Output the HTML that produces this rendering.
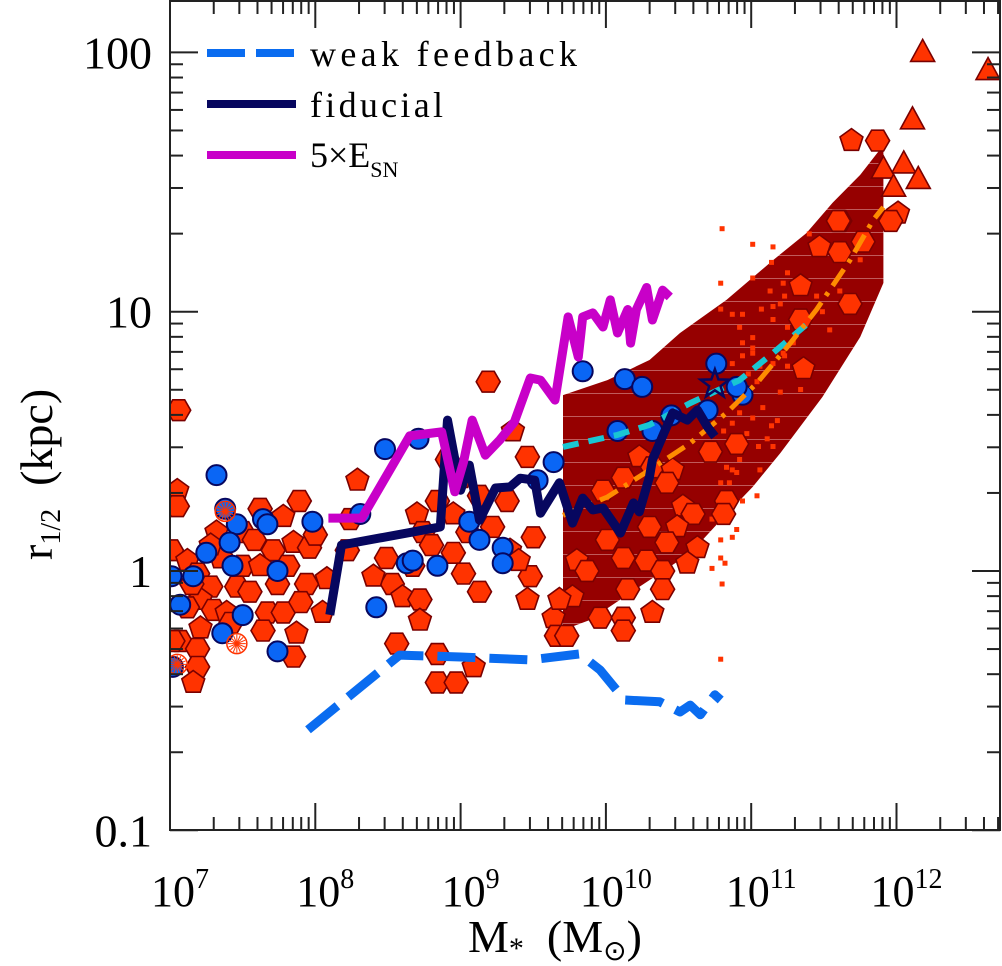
<!DOCTYPE html>
<html><head><meta charset="utf-8">
<style>
html,body{margin:0;padding:0;background:#fff;}
svg{display:block;font-family:"Liberation Serif",serif;}
</style></head>
<body>
<svg id="chart" width="1002" height="966" viewBox="0 0 1002 966" xmlns="http://www.w3.org/2000/svg">
<defs>
<pattern id="hatch" width="10" height="23" patternUnits="userSpaceOnUse" y="2">
<rect width="10" height="23" fill="#960000"/>
<line x1="0" y1="0.5" x2="10" y2="0.5" stroke="#c05a5a" stroke-width="1"/>
</pattern>
<clipPath id="plotclip"><rect x="170" y="1" width="830" height="829"/></clipPath>
</defs>
<g id="band" clip-path="url(#plotclip)"></g>
<g id="squares" clip-path="url(#plotclip)"></g>
<g id="polys" clip-path="url(#plotclip)"></g>
<g id="circles" clip-path="url(#plotclip)"></g>
<g id="lines" clip-path="url(#plotclip)"></g>
<g id="axes"></g>
<g id="legend">
<line x1="207" y1="53" x2="296" y2="53" stroke="#0a6cf0" stroke-width="8" stroke-dasharray="38 11"/>
<text x="310" y="66" font-size="36" textLength="267">weak feedback</text>
<line x1="207" y1="104" x2="296" y2="104" stroke="#07075f" stroke-width="8"/>
<text x="310" y="117" font-size="36" textLength="133">fiducial</text>
<line x1="207" y1="155" x2="296" y2="155" stroke="#c800c8" stroke-width="8"/>
<text x="310" y="167" font-size="36">5×E<tspan font-size="22" dy="10">SN</tspan></text>
</g>
<text x="468" y="952" font-size="46">M<tspan font-size="30" dy="6">*</tspan><tspan dy="-6" xml:space="preserve">  (M</tspan><tspan font-size="28" dy="8">⊙</tspan><tspan dy="-8">)</tspan></text>
<text transform="translate(52,560) rotate(-90)" font-size="46">r<tspan font-size="28" dy="8">1/2</tspan><tspan dy="-8" xml:space="preserve">  (kpc)</tspan></text>
</svg>
<script>
// ---- data (log10 stellar mass, radii) ----
const weakLogM = [7.95,8.58,9.0,9.48,9.82,9.96,10.13,10.37,10.51,10.58,10.65,10.75,10.79];
const weakR = [0.244,0.474,0.466,0.454,0.479,0.415,0.318,0.313,0.286,0.304,0.279,0.333,0.318];
const fidLogM = [8.10,8.18,8.86,8.91,9.0,9.06,9.13,9.24,9.34,9.41,9.51,9.55,9.68,9.77,9.84,9.91,9.98,10.10,10.19,10.23,10.30,10.32,10.40,10.46,10.56,10.63,10.70,10.75];
const fidR = [0.677,1.26,1.48,3.82,2.05,2.56,1.57,2.09,2.11,2.28,2.24,1.67,2.19,1.53,1.91,1.72,1.75,1.40,1.83,1.69,2.31,2.68,3.41,4.07,3.82,4.18,3.59,3.3];
const esnLogM = [8.09,8.32,8.65,8.87,8.96,9.02,9.08,9.17,9.27,9.37,9.48,9.55,9.65,9.74,9.81,9.84,9.91,9.98,10.03,10.08,10.15,10.17,10.21,10.28,10.32,10.39,10.44];
const esnR = [1.60,1.60,3.32,3.44,2.02,2.63,3.82,2.80,3.20,3.76,5.55,5.45,4.56,9.55,6.69,9.55,9.89,8.73,11.1,8.28,10.2,7.57,10.2,12.4,9.29,12.1,11.4];
const cyanLogM = [9.705,10.08,10.30,10.58,10.92,11.15,11.40];
const cyanR = [3.01,3.35,3.66,4.44,5.45,6.93,9.12];
const orangeLogM = [9.705,10.01,10.30,10.58,10.83,11.04,11.27,11.45,11.68,11.84,11.91];
const orangeR = [1.64,1.93,2.45,3.11,4.07,5.31,7.57,10.2,15.8,22.6,25.3];
const bandUpLogM = [9.705,10.01,10.30,10.51,10.83,11.15,11.38,11.56,11.75,11.91];
const bandUpR = [4.77,5.45,6.51,8.28,11.1,15.8,20.1,26.3,33.7,43.9];
const bandLoLogM = [9.705,9.89,10.23,10.58,10.79,11.01,11.20,11.49,11.75,11.91];
const bandLoR = [0.592,0.647,0.868,1.17,1.57,2.11,2.85,4.69,7.99,12.9];
const polyLogM = [7.06,7.05,7.05,7.01,7.12,7.19,7.28,7.32,7.50,7.62,7.78,7.89,7.71,7.85,7.96,7.50,7.62,7.81,7.94,8.08,7.74,7.46,7.21,7.12,7.30,7.39,7.67,7.78,7.21,7.07,7.64,7.87,7.19,7.19,7.16,7.85,7.02,8.29,8.24,8.22,8.05,8.49,8.53,8.60,8.72,8.67,8.70,8.74,8.84,8.95,8.95,8.91,9.00,9.13,9.22,9.36,9.46,9.32,9.34,9.50,9.48,9.46,9.13,9.02,8.72,8.56,8.84,9.09,8.84,8.97,9.64,9.66,11.61,11.47,11.61,11.77,11.34,11.68,11.34,11.36,10.90,10.72,10.23,10.12,10.32,10.46,9.98,10.42,10.53,10.60,10.30,10.49,10.01,10.42,10.63,10.28,10.12,9.80,9.87,10.39,10.56,10.83,10.81,9.77,10.15,10.39,9.68,9.96,10.12,10.32,9.73,10.12,11.69,11.87,11.60,12.01,11.96,9.19,7.35,7.55,7.90,7.28,7.58,8.00,8.40,8.80,9.05,9.40,7.15,7.42];
const polyLogR = [0.62,0.31,0.25,0.08,0.04,-0.01,-0.06,0.15,0.15,0.24,0.21,0.27,0.08,0.11,0.09,0.02,0.02,0.02,-0.05,-0.03,-0.05,-0.06,-0.11,-0.14,-0.15,-0.16,-0.16,-0.16,-0.22,-0.27,-0.23,-0.24,-0.30,-0.37,-0.43,-0.33,-0.27,0.35,0.20,0.08,-0.16,0.05,-0.05,-0.10,-0.11,0.02,0.22,0.15,0.27,0.22,0.07,0.43,0.36,0.29,0.17,0.54,0.44,0.27,0.08,0.13,-0.02,-0.11,-0.08,-0.01,-0.19,-0.28,-0.32,-0.37,-0.43,-0.43,-0.18,-0.25,1.35,1.25,1.23,1.27,1.10,1.03,0.97,0.78,0.49,0.46,0.44,0.36,0.40,0.39,0.31,0.34,0.25,0.22,0.17,0.17,0.12,0.11,0.09,0.04,0.05,0.04,0.00,0.00,0.03,0.27,0.22,-0.10,-0.07,-0.07,-0.11,-0.18,-0.18,-0.16,-0.25,-0.23,1.66,1.66,1.35,1.38,1.35,0.73,0.05,-0.08,-0.12,0.10,0.12,0.14,-0.02,0.10,0.15,0.04,-0.05,-0.20];
const circLogM = [7.32,7.38,7.46,7.41,7.25,7.43,7.01,7.16,7.07,7.50,7.36,7.74,7.02,7.64,7.67,7.74,7.98,8.31,8.48,8.71,8.42,8.63,8.67,8.84,9.06,9.13,9.29,9.29,9.53,9.64,9.84,10.13,10.25,10.76,10.08,10.32,10.45,10.94,10.90,10.70];
const circLogR = [0.37,0.24,0.18,0.11,0.07,0.02,-0.02,-0.02,-0.13,-0.17,-0.24,-0.31,-0.37,0.20,0.18,0.00,0.19,0.22,0.47,0.51,-0.14,0.03,0.04,0.02,0.19,0.12,0.09,0.03,0.35,0.42,0.77,0.74,0.71,0.80,0.54,0.54,0.60,0.68,0.71,0.62];
const triLogM = [12.18,12.63,12.11,12.05,11.91,12.15,11.98];
const triLogR = [2.00,1.93,1.74,1.57,1.55,1.51,1.48];
const sqLogM = [10.80,11.01,11.15,10.79,11.01,11.14,11.25,11.13,11.40,10.79,10.87,10.94,11.07,11.15,11.20,10.92,11.01,10.94,11.15,11.25,11.29,11.22,10.94,11.01,11.06,11.15,11.25,10.87,10.98,11.04,11.20,11.08,11.18,11.01,10.92,10.87,10.81,10.97,11.11,11.05,11.15,10.92,10.83,10.90,10.85,10.79,11.06,11.04,10.94,10.79,10.73,10.90,10.87,10.79,10.79,10.82,10.73,10.80,10.79,11.23,11.23,11.45,11.22,11.35,11.49,10.74,11.01,10.87,11.14,11.61,11.75,11.54,11.34];
const sqLogR = [1.32,1.26,1.25,1.11,1.13,1.19,1.15,1.08,1.30,1.01,0.99,0.99,1.01,1.02,1.03,0.94,0.90,0.88,0.97,0.94,0.88,0.84,0.83,0.84,0.79,0.80,0.79,0.80,0.76,0.73,0.69,0.63,0.58,0.59,0.61,0.57,0.54,0.53,0.51,0.48,0.48,0.43,0.40,0.38,0.34,0.34,0.39,0.29,0.27,0.25,0.20,0.16,0.13,0.12,0.05,0.03,0.01,-0.05,-0.34,0.83,1.06,1.06,1.11,0.94,1.00,0.53,0.86,0.39,0.56,1.08,1.20,0.93,0.70];
const starLogM = [10.75];
const starLogR = [0.72];
const burstLogM = [7.38,7.46,7.05];
const burstLogR = [0.23,-0.28,-0.36];
const xTickExp = [7,8,9,10,11,12];
const yTickLabels = ["0.1","1","10","100"];
const yTickVals = [0.1,1,10,100];

// ---- scales ----
const X0=170, XD=145.3, Y1=571, YD=259.3;
function xs(lm){return X0+(lm-7)*XD;}
function ysl(lr){return Y1-lr*YD;}
function ys(r){return ysl(Math.log10(r));}
const NS="http://www.w3.org/2000/svg";
function mk(tag,parent){const e=document.createElementNS(NS,tag);parent.appendChild(e);return e;}

// band
const band=document.getElementById('band');
let pts=[];
for(let i=0;i<bandUpLogM.length;i++)pts.push(xs(bandUpLogM[i]).toFixed(1)+','+ys(bandUpR[i]).toFixed(1));
for(let i=bandLoLogM.length-1;i>=0;i--)pts.push(xs(bandLoLogM[i]).toFixed(1)+','+ys(bandLoR[i]).toFixed(1));
const bp=mk('polygon',band);
bp.setAttribute('points',pts.join(' '));
bp.setAttribute('fill','url(#hatch)');



// squares
const sq=document.getElementById('squares');
for(let i=0;i<sqLogM.length;i++){
  const r=mk('rect',sq);
  r.setAttribute('x',(xs(sqLogM[i])-2.5).toFixed(1));
  r.setAttribute('y',(ysl(sqLogR[i])-2.5).toFixed(1));
  r.setAttribute('width',5);r.setAttribute('height',5);
  r.setAttribute('fill','#ff3300');
  
  
}

// polygons
function regPoly(cx,cy,n,rad,rot){
  const a=[];for(let k=0;k<n;k++){const t=rot+k*2*Math.PI/n;a.push((cx+rad*Math.cos(t)).toFixed(1)+','+(cy+rad*Math.sin(t)).toFixed(1));}return a.join(' ');
}
const pg=document.getElementById('polys');
for(let i=0;i<polyLogM.length;i++){
  const p=mk('polygon',pg);
  const pent=(i%3===1);
  p.setAttribute('points',regPoly(xs(polyLogM[i]),ysl(polyLogR[i]),pent?5:6,12,pent?-Math.PI/2:0));
  p.setAttribute('fill','#ff3300');p.setAttribute('stroke','#7a0000');p.setAttribute('stroke-width','1.6');
  
  
}
for(let i=0;i<triLogM.length;i++){
  const p=mk('polygon',pg);
  const cx=xs(triLogM[i]),cy=ysl(triLogR[i]);
  p.setAttribute('points',`${cx},${cy-13} ${cx+12},${cy+9} ${cx-12},${cy+9}`);
  p.setAttribute('fill','#ff3300');p.setAttribute('stroke','#7a0000');p.setAttribute('stroke-width','1.6');
  
  
}

// circles
const cg=document.getElementById('circles');
for(let i=0;i<circLogM.length;i++){
  const c=mk('circle',cg);
  c.setAttribute('cx',xs(circLogM[i]).toFixed(1));c.setAttribute('cy',ysl(circLogR[i]).toFixed(1));
  c.setAttribute('r',10);c.setAttribute('fill','#0a66f5');c.setAttribute('stroke','#07075f');c.setAttribute('stroke-width','2');
  
  
}
for(let i=0;i<burstLogM.length;i++){
  const cx=xs(burstLogM[i]),cy=ysl(burstLogR[i]);
  const c=mk('circle',cg);
  c.setAttribute('cx',cx);c.setAttribute('cy',cy);c.setAttribute('r',10);c.setAttribute('fill','none');c.setAttribute('stroke','#ff3300');c.setAttribute('stroke-width','1.5');
  
  
  for(let k=0;k<8;k++){const t=k*Math.PI/8;const l=mk('line',cg);
    l.setAttribute('x1',cx-9*Math.cos(t));l.setAttribute('y1',cy-9*Math.sin(t));l.setAttribute('x2',cx+9*Math.cos(t));l.setAttribute('y2',cy+9*Math.sin(t));
    l.setAttribute('stroke','#ff3300');l.setAttribute('stroke-width','1');
    
    }
}

// lines
const lg=document.getElementById('lines');
function drawLine(lm,r,color,w,dash,name){
  const p=mk('polyline',lg);
  p.setAttribute('points',lm.map((v,i)=>xs(v).toFixed(1)+','+ys(r[i]).toFixed(1)).join(' '));
  p.setAttribute('fill','none');p.setAttribute('stroke',color);p.setAttribute('stroke-width',w);
  p.setAttribute('stroke-linejoin','round');
  if(dash)p.setAttribute('stroke-dasharray',dash);
  
  
}
drawLine(weakLogM,weakR,'#0a6cf0',9,'38 14','weak-feedback-line');
drawLine(cyanLogM,cyanR,'#19c6d2',6,'16 10','cyan-dashed-fit');
drawLine(orangeLogM,orangeR,'#ff8c00',5,'20 8 4 8','orange-dashdot-fit');
drawLine(fidLogM,fidR,'#07075f',9,null,'fiducial-line');
drawLine(esnLogM,esnR,'#c800c8',9,null,'5esn-line');
for(let i=0;i<starLogM.length;i++){
  const cx=xs(starLogM[i]),cy=ysl(starLogR[i]);const a=[];
  for(let k=0;k<10;k++){const t=-Math.PI/2+k*Math.PI/5;const rr=k%2?6:15;a.push((cx+rr*Math.cos(t)).toFixed(1)+','+(cy+rr*Math.sin(t)).toFixed(1));}
  const s=mk('polygon',lg);s.setAttribute('points',a.join(' '));s.setAttribute('fill','none');s.setAttribute('stroke','#07075f');s.setAttribute('stroke-width','2.5');
  
  
}

// axes
const ax=document.getElementById('axes');
const fr=mk('rect',ax);
fr.setAttribute('x',170);fr.setAttribute('y',1);fr.setAttribute('width',830);fr.setAttribute('height',829);
fr.setAttribute('fill','none');fr.setAttribute('stroke','#222');fr.setAttribute('stroke-width','2');


function tick(x1,y1,x2,y2){const l=mk('line',ax);l.setAttribute('x1',x1);l.setAttribute('y1',y1);l.setAttribute('x2',x2);l.setAttribute('y2',y2);l.setAttribute('stroke','#222');l.setAttribute('stroke-width','2');
  
  }
for(let d=7;d<=12;d++){
  for(let m=1;m<=9;m++){
    const x=xs(d+Math.log10(m));if(x>999)continue;
    const L=m===1?27:13;tick(x,830,x,830-L);tick(x,1,x,1+L);
  }
}
for(let d=-1;d<=2;d++){
  for(let m=1;m<=9;m++){
    const y=ys(m*Math.pow(10,d));if(y<1)continue;
    const L=m===1?28:13;tick(170,y,170+L,y);tick(1000,y,1000-L,y);
  }
}
for(let i=0;i<xTickExp.length;i++){
  const t=mk('text',ax);
  t.setAttribute('x',xs(xTickExp[i])+10);t.setAttribute('y',906);t.setAttribute('font-size','44');t.setAttribute('text-anchor','middle');
  t.textContent='10';
  const s=mk('tspan',t);s.setAttribute('font-size','28');s.setAttribute('dy','-18');s.textContent=String(xTickExp[i]);
  
  
}
for(let i=0;i<yTickVals.length;i++){
  const t=mk('text',ax);
  t.setAttribute('x',152);t.setAttribute('y',ys(yTickVals[i])+16);t.setAttribute('font-size','46');t.setAttribute('text-anchor','end');
  t.textContent=yTickLabels[i];
  
  
}
</script>
</body></html>
